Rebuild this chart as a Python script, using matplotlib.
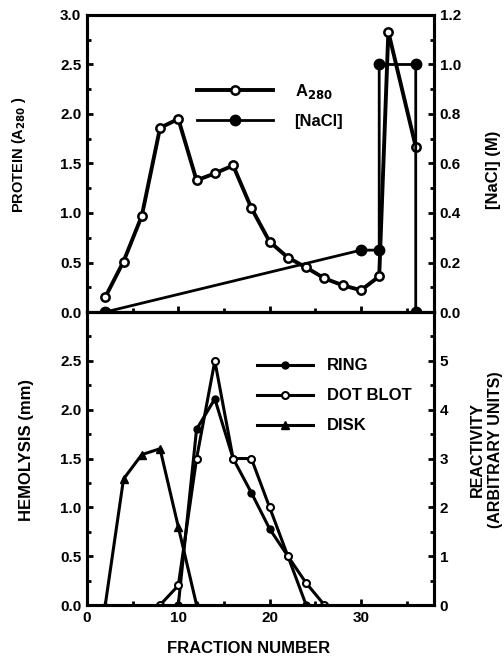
import numpy as np
import matplotlib.pyplot as plt
from matplotlib.ticker import MultipleLocator, FixedLocator

plt.rcParams['font.family'] = ['Liberation Sans', 'DejaVu Sans']
plt.rcParams['font.weight'] = 'bold'
plt.rcParams['mathtext.default'] = 'bf'

# top panel data
a280_x = [2, 4, 6, 8, 10, 12, 14, 16, 18, 20, 22, 24, 26, 28, 30, 32, 33, 36]
a280_y = [0.15, 0.51, 0.97, 1.86, 1.95, 1.33, 1.40, 1.48, 1.05, 0.71, 0.55, 0.45,
          0.34, 0.27, 0.22, 0.36, 2.83, 1.67]
nacl_x = [2, 30, 32, 32, 36, 36]
nacl_y = [0.0, 0.25, 0.25, 1.0, 1.0, 0.0]

# bottom panel data
ring_x = [10, 12, 14, 16, 18, 20, 22, 24]
ring_y = [0.0, 1.80, 2.11, 1.50, 1.15, 0.78, 0.50, 0.0]
dot_x = [8, 10, 12, 14, 16, 18, 20, 22, 24, 26]
dot_y = [0.0, 0.4, 3.0, 5.0, 3.0, 3.0, 2.0, 1.0, 0.45, 0.0]
disk_x = [2, 4, 6, 8, 10, 12]
disk_y = [0.0, 1.29, 1.54, 1.60, 0.80, 0.0]

fs = 11
lfs = 12
fig = plt.figure(figsize=(5.04, 6.57), dpi=100)
ax1 = fig.add_axes([0.1726, 0.5251, 0.6885, 0.4521])
ax3 = fig.add_axes([0.1726, 0.0791, 0.6885, 0.4460], sharex=ax1)
ax2 = ax1.twinx()
ax4 = ax3.twinx()

for ax in [ax1, ax2, ax3, ax4]:
    for s in ax.spines.values():
        s.set_linewidth(2.2)
    ax.tick_params(which='both', direction='in', width=2, labelsize=fs, pad=4)
    ax.tick_params(which='major', length=4)
    ax.tick_params(which='minor', length=3)

# top
l1, = ax1.plot(a280_x, a280_y, color='black', lw=2.8, marker='o', ms=6,
               mfc='white', mec='black', mew=1.8, label='A$_{280}$')
l2, = ax2.plot(nacl_x, nacl_y, color='black', lw=2.0, marker='o', ms=7.5,
               mfc='black', mec='black', label='[NaCl]')
ax1.set_xlim(0, 38)
ax1.set_ylim(0, 3.0)
ax2.set_ylim(0, 1.2)
ax1.yaxis.set_major_locator(MultipleLocator(0.5))
ax1.yaxis.set_minor_locator(MultipleLocator(0.25))
ax1.yaxis.set_major_formatter('{x:.1f}')
ax2.yaxis.set_major_locator(MultipleLocator(0.2))
ax2.yaxis.set_minor_locator(MultipleLocator(0.1))
ax2.yaxis.set_major_formatter('{x:.1f}')
ax1.xaxis.set_major_locator(MultipleLocator(10))
ax1.xaxis.set_minor_locator(MultipleLocator(5))
ax1.tick_params(axis='x', which='both', labelbottom=False)
ax1.set_ylabel('PROTEIN (A$_{280}$ )', fontsize=10.5, fontweight='bold',
               labelpad=23, y=0.53)
ax2.set_ylabel('[NaCl] (M)', fontsize=lfs, fontweight='bold', labelpad=18, y=0.478)
ax2.legend([l1, l2], ['A$_{280}$', '[NaCl]'], loc='upper left',
           bbox_to_anchor=(0.274, 0.826), frameon=False, fontsize=lfs,
           handlelength=4.55, handletextpad=1.3, labelspacing=0.8)

# bottom
l3, = ax3.plot(ring_x, ring_y, color='black', lw=2.2, marker='o', ms=5,
               mfc='black', mec='black', label='RING')
l5, = ax3.plot(disk_x, disk_y, color='black', lw=2.2, marker='^', ms=6,
               mfc='black', mec='black', label='DISK')
l4, = ax4.plot(dot_x, dot_y, color='black', lw=2.2, marker='o', ms=5,
               mfc='white', mec='black', mew=1.5, label='DOT BLOT')
ax3.set_ylim(0, 3.0)
ax4.set_ylim(0, 6.0)
ax3.yaxis.set_major_locator(FixedLocator([0, 0.5, 1.0, 1.5, 2.0, 2.5]))
ax3.yaxis.set_minor_locator(MultipleLocator(0.25))
ax3.yaxis.set_major_formatter('{x:.1f}')
ax4.yaxis.set_major_locator(FixedLocator([0, 1, 2, 3, 4, 5]))
ax4.yaxis.set_minor_locator(MultipleLocator(0.5))
ax3.xaxis.set_major_locator(MultipleLocator(10))
ax3.xaxis.set_minor_locator(MultipleLocator(5))
ax3.set_xlabel('FRACTION NUMBER', fontsize=lfs, fontweight='bold', labelpad=12,
               x=0.465)
ax3.set_ylabel('HEMOLYSIS (mm)', fontsize=lfs, fontweight='bold', labelpad=19,
               y=0.53)
ax4.set_ylabel('REACTIVITY\n(ARBITRARY UNITS)', fontsize=11.5, fontweight='bold',
               labelpad=16, linespacing=1.25, y=0.53)
ax4.legend([l3, l4, l5], ['RING', 'DOT BLOT', 'DISK'], loc='upper left',
           bbox_to_anchor=(0.447, 0.893), frameon=False, fontsize=lfs,
           handlelength=3.35, handletextpad=0.85, labelspacing=0.9)

fig.savefig('out.png', dpi=100)
